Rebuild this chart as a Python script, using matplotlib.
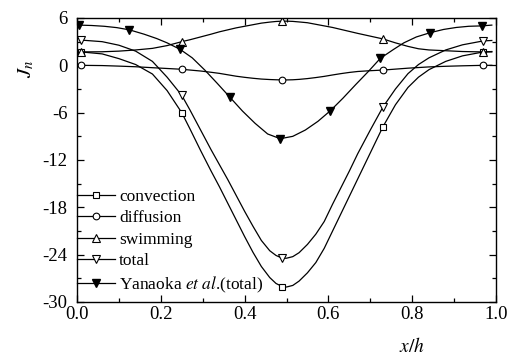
import matplotlib
matplotlib.use("Agg")
import matplotlib.pyplot as plt
from matplotlib.ticker import MultipleLocator

plt.rcParams['font.family'] = ['Liberation Serif', 'DejaVu Serif']
plt.rcParams['mathtext.fontset'] = 'stix'

# ---------------- data ----------------
x_grid = [0.01, 0.06, 0.10, 0.14, 0.18, 0.215, 0.25, 0.27, 0.295, 0.32, 0.34, 0.36,
          0.38, 0.40, 0.42, 0.44, 0.46, 0.475, 0.49, 0.50, 0.515, 0.53, 0.55, 0.57, 0.59, 0.61,
          0.63, 0.65, 0.67, 0.70, 0.73, 0.76, 0.79, 0.815, 0.84, 0.88, 0.92, 0.97, 0.99]
marker_idx = [0, 6, 18, 30, 37]

convection = [1.7, 1.45, 0.85, 0.1, -1.1, -3.2, -6.0, -8.1, -10.8, -13.4, -15.4, -17.5,
              -19.6, -21.7, -23.7, -25.5, -26.9, -27.65, -28.05, -28.1, -27.9, -27.35, -26.3, -25.0, -23.2, -21.0,
              -18.8, -16.6, -14.4, -11.1, -7.8, -5.0, -2.8, -1.5, -0.55, 0.5, 1.2, 1.7, 1.75]
diffusion = [0.0, -0.03, -0.1, -0.18, -0.3, -0.4, -0.5, -0.6, -0.72, -0.88, -1.02, -1.2,
             -1.38, -1.52, -1.64, -1.74, -1.8, -1.83, -1.85, -1.85, -1.83, -1.78, -1.68, -1.55, -1.4, -1.22,
             -1.05, -0.9, -0.78, -0.68, -0.6, -0.48, -0.36, -0.28, -0.2, -0.12, -0.06, 0.0, 0.0]
swimming = [1.7, 1.72, 1.8, 1.95, 2.15, 2.5, 3.0, 3.25, 3.6, 3.95, 4.25, 4.5,
            4.75, 4.95, 5.15, 5.35, 5.48, 5.56, 5.6, 5.6, 5.57, 5.5, 5.4, 5.2, 5.0, 4.8,
            4.55, 4.3, 4.05, 3.7, 3.35, 2.85, 2.4, 2.1, 1.95, 1.85, 1.75, 1.7, 1.7]
total = [3.2, 3.0, 2.55, 1.8, 0.5, -1.5, -3.8, -5.7, -8.2, -10.7, -12.6, -14.5,
         -16.5, -18.5, -20.4, -22.2, -23.5, -24.1, -24.45, -24.45, -24.25, -23.75, -22.7, -21.4, -19.8, -17.6,
         -15.5, -13.4, -11.2, -8.2, -5.3, -3.0, -1.05, 0.1, 0.95, 1.95, 2.6, 3.1, 3.15]

yan_x = [0.0, 0.005, 0.035, 0.065, 0.095, 0.125, 0.16, 0.19, 0.215, 0.246, 0.275, 0.305,
         0.335, 0.365, 0.395, 0.425, 0.455, 0.485, 0.515, 0.545, 0.575, 0.605, 0.635, 0.665,
         0.695, 0.724, 0.755, 0.78, 0.81, 0.843, 0.875, 0.905, 0.935, 0.966, 0.99]
yan_y = [5.12, 5.1, 5.05, 4.95, 4.78, 4.5, 3.95, 3.4, 2.85, 2.03, 0.95, -0.6,
         -2.3, -4.05, -5.8, -7.35, -8.7, -9.3, -9.0, -8.2, -7.1, -5.74, -4.15, -2.45,
         -0.8, 0.89, 2.0, 2.85, 3.6, 4.14, 4.55, 4.8, 4.95, 5.0, 5.1]
yan_marker_idx = [1, 5, 9, 13, 17, 21, 25, 29, 33]

labels = ['convection', 'diffusion', 'swimming', 'total',
          r'Yanaoka $\mathit{et\ al}$.(total)']

x_ticks = [0.0, 0.2, 0.4, 0.6, 0.8, 1.0]
y_ticks = [-30, -24, -18, -12, -6, 0, 6]

# ---------------- plot ----------------
fig = plt.figure(figsize=(5.15, 3.56), dpi=100)
ax = fig.add_axes([77/515, 1-302/356, (496-77)/515, (302-18)/356])

lw = 0.9
common = dict(color='black', lw=lw, mec='black', mew=0.8, markevery=marker_idx)
ax.plot(x_grid, convection, marker='s', ms=4.2, mfc='white', label=labels[0], **common)
ax.plot(x_grid, diffusion, marker='o', ms=4.8, mfc='white', label=labels[1], **common)
ax.plot(x_grid, swimming, marker='^', ms=5.6, mfc='white', label=labels[2], **common)
ax.plot(x_grid, total, marker='v', ms=5.6, mfc='white', label=labels[3], **common)
ax.plot(yan_x, yan_y, marker='v', ms=5.8, mfc='black', mec='black', color='black', lw=lw,
        markevery=yan_marker_idx, label=labels[4])

ax.set_xlim(0, 1)
ax.set_ylim(-30, 6)
ax.set_xticks(x_ticks)
ax.set_yticks(y_ticks)
ax.set_xticklabels([f'{v:.1f}' for v in x_ticks])
ax.set_yticklabels([str(v) for v in y_ticks])
ax.xaxis.set_minor_locator(MultipleLocator(0.1))
ax.yaxis.set_minor_locator(MultipleLocator(3))
ax.tick_params(which='both', direction='in', top=True, right=True, labelsize=13.5, width=0.9)
ax.tick_params(axis='x', which='both', pad=3)
ax.tick_params(axis='y', which='both', pad=7)
ax.tick_params(which='major', length=5)
ax.tick_params(which='minor', length=3)
for s in ax.spines.values():
    s.set_linewidth(1.0)

ax.text(0.8, -0.125, r'$x/h$', transform=ax.transAxes, fontsize=14, ha='center', va='top')
ax.text(-0.12, 0.82, r'$J_n$', transform=ax.transAxes, fontsize=15, ha='center', va='center',
        rotation=90)

leg = ax.legend(loc='lower left', bbox_to_anchor=(0.0, 0.026), frameon=False, numpoints=1,
                fontsize=12.5, handlelength=2.2, handletextpad=0.23, labelspacing=0.3,
                borderaxespad=0.0, borderpad=0.0)

fig.savefig('out.png', dpi=100)
